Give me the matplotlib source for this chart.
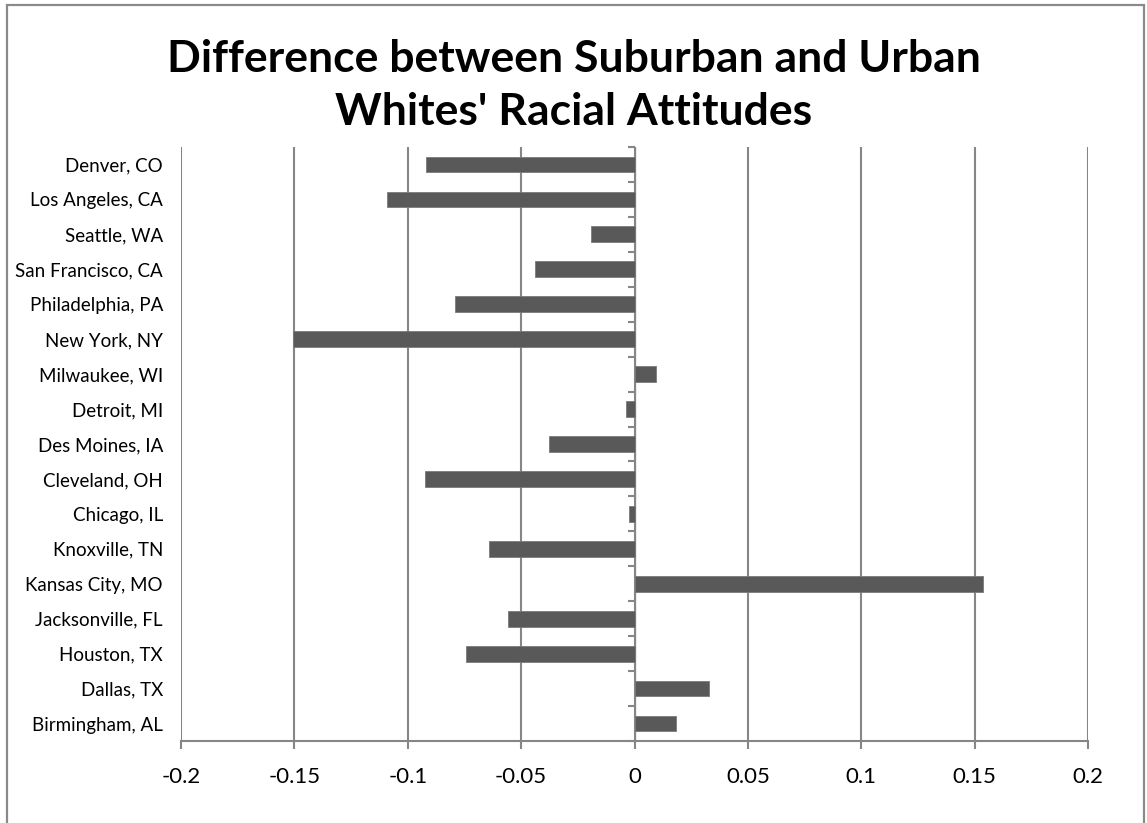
import matplotlib.pyplot as plt
from matplotlib.patches import Rectangle

# cities from top to bottom of the chart
cities = [
    "Denver, CO", "Los Angeles, CA", "Seattle, WA", "San Francisco, CA",
    "Philadelphia, PA", "New York, NY", "Milwaukee, WI", "Detroit, MI",
    "Des Moines, IA", "Cleveland, OH", "Chicago, IL", "Knoxville, TN",
    "Kansas City, MO", "Jacksonville, FL", "Houston, TX", "Dallas, TX",
    "Birmingham, AL",
]
differences = [
    -0.092, -0.109, -0.019, -0.044,
    -0.079, -0.1505, 0.0096, -0.0037,
    -0.0378, -0.0926, -0.0023, -0.0641,
    0.1535, -0.0559, -0.0741, 0.0327,
    0.0183,
]
x_ticks = [-0.2, -0.15, -0.1, -0.05, 0, 0.05, 0.1, 0.15, 0.2]
x_tick_labels = ["-0.2", "-0.15", "-0.1", "-0.05", "0", "0.05", "0.1", "0.15", "0.2"]
title = "Difference between Suburban and Urban\nWhites' Racial Attitudes"

plt.rcParams["font.family"] = ["Lato", "DejaVu Sans"]
grid_color = "#868686"

fig = plt.figure(figsize=(11.47, 8.23), dpi=100)
ax = fig.add_axes([0.1578, 0.0996, 0.7908, 0.7218])

n = len(cities)
ypos = list(range(n))
ax.barh(ypos, differences, height=0.45, color="#595959",
        edgecolor="#7a7a7a", linewidth=0.6, zorder=3)

ax.set_xlim(-0.2, 0.2)
ax.set_ylim(n - 0.5, -0.5)
ax.set_xticks(x_ticks)
ax.set_xticklabels(x_tick_labels, fontsize=16)
ax.set_yticks(ypos)
ax.set_yticklabels(cities, fontsize=13.5)
ax.tick_params(axis="y", length=0, pad=13)
ax.tick_params(axis="x", length=6, width=1.5, color=grid_color, pad=13)

ax.grid(True, axis="x", color=grid_color, linewidth=1.5, zorder=0)
for side in ["left", "right", "top"]:
    ax.spines[side].set_visible(False)
ax.spines["bottom"].set_color(grid_color)
ax.spines["bottom"].set_linewidth(1.5)

# vertical category axis sitting on x = 0, ticks between categories
yax = ax.secondary_yaxis(0.5)
yax.set_yticks([k - 0.5 for k in range(n + 1)])
yax.set_yticklabels([])
yax.tick_params(axis="y", length=5, width=1.5, color=grid_color, direction="in")
yax.spines["left"].set_color(grid_color)
yax.spines["left"].set_linewidth(1.5)

fig.text(0.5, 0.896, title, ha="center", va="center", fontsize=32,
         fontweight="bold", linespacing=1.4)

# chart frame; its lower edge runs past the bottom of the image
fig.patches.append(Rectangle((7 / 1147, -0.02), 1137 / 1147, 1.02 - 5 / 823,
                             transform=fig.transFigure, fill=False,
                             edgecolor="#8a8a8a", linewidth=1.6))

fig.savefig("out.png", dpi=100)
